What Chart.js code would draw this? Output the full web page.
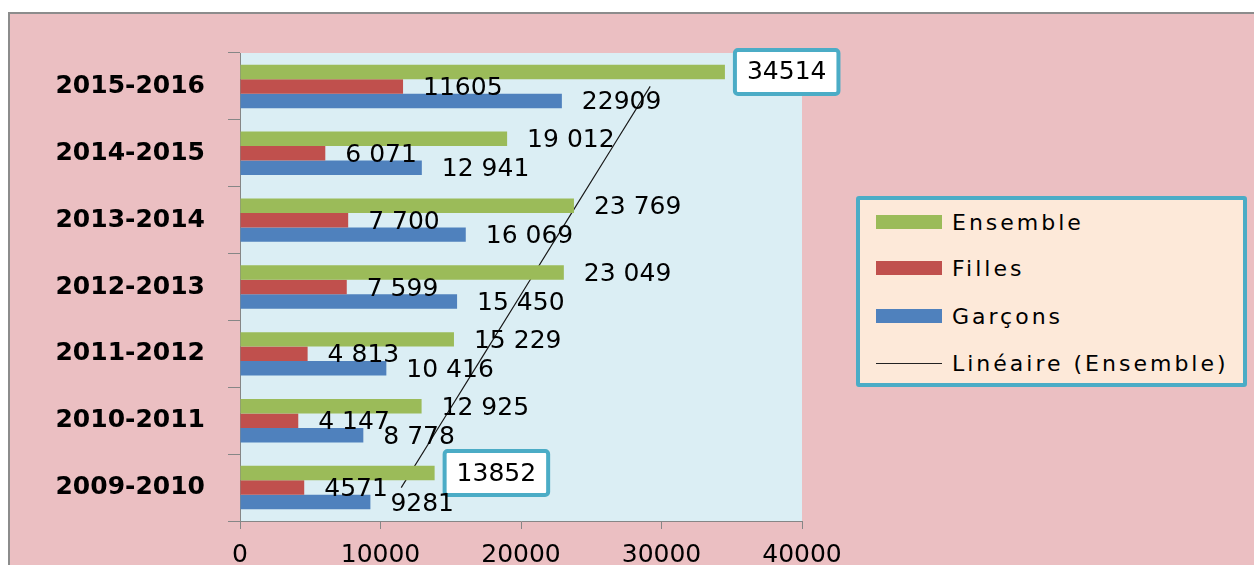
<!DOCTYPE html>
<html>
<head>
<meta charset="utf-8">
<script src="https://cdn.jsdelivr.net/npm/chart.js@4.4.1/dist/chart.umd.min.js"></script>
<style>
  html, body { margin: 0; padding: 0; background: #fff; width: 1254px; height: 565px; overflow: hidden; }
  #frame { position: absolute; left: 8px; top: 12px; width: 1246px; height: 553px; box-sizing: border-box;
           background: #ebbfc2; border-top: 2px solid #8c8c8c; border-left: 2px solid #8c8c8c; }
  #chart { position: absolute; left: 0; top: 0; }
  #legend { position: absolute; left: 856px; top: 196px; width: 391px; height: 191px; box-sizing: border-box;
            border: 4px solid #4bacc6; border-radius: 3px; background: #fde9d9;
            font-family: 'DejaVu Sans', sans-serif; font-size: 22px; color: #000; letter-spacing: 3px; }
  .item { position: absolute; left: 16px; height: 30px; display: flex; align-items: center; white-space: nowrap; }
  .sw { width: 66px; height: 14px; margin-right: 10px; flex: none; }
  .sw.line { height: 1px; background: #222; }
</style>
</head>
<body>
<div id="frame"></div>
<canvas id="chart" width="1254" height="565"></canvas>
<div id="legend">
  <div class="item" style="top:7px"><span class="sw" style="background:#9bbb59"></span>Ensemble</div>
  <div class="item" style="top:53px"><span class="sw" style="background:#c0504d"></span>Filles</div>
  <div class="item" style="top:101px"><span class="sw" style="background:#4f81bd"></span>Garçons</div>
  <div class="item" style="top:148px"><span class="sw line"></span>Linéaire (Ensemble)</div>
</div>
<script>
// rows listed from top to bottom as in the picture
const seasons = ['2015-2016', '2014-2015', '2013-2014', '2012-2013', '2011-2012', '2010-2011', '2009-2010'];
const ensemble = [34514, 19012, 23769, 23049, 15229, 12925, 13852];
const filles = [11605, 6071, 7700, 7599, 4813, 4147, 4571];
const garcons = [22909, 12941, 16069, 15450, 10416, 8778, 9281];

const ensembleText = ['34514', '19 012', '23 769', '23 049', '15 229', '12 925', '13852'];
const fillesText = ['11605', '6 071', '7 700', '7 599', '4 813', '4 147', '4571'];
const garconsText = ['22909', '12 941', '16 069', '15 450', '10 416', '8 778', '9281'];
const boxedEnsemble = [0, 6];

const xTicks = [0, 10000, 20000, 30000, 40000];

const GREEN = '#9bbb59';
const RED = '#c0504d';
const BLUE = '#4f81bd';
const AXIS = '#868686';

// least squares line, as the spreadsheet trendline
function linearFit(vals) {
  const n = vals.length;
  const mx = (n - 1) / 2;
  const my = vals.reduce((a, b) => a + b, 0) / n;
  let num = 0, den = 0;
  vals.forEach((v, i) => { num += (i - mx) * (v - my); den += (i - mx) * (i - mx); });
  const slope = num / den;
  return vals.map((_, i) => my + slope * (i - mx));
}

const plotBg = {
  id: 'plotBg',
  beforeDraw(chart) {
    const { ctx, chartArea: a } = chart;
    ctx.save();
    ctx.fillStyle = '#dbeef4';
    ctx.fillRect(a.left, a.top, a.right - a.left, a.bottom - a.top);
    ctx.restore();
  }
};

const valueLabels = {
  id: 'valueLabels',
  afterDatasetsDraw(chart) {
    const ctx = chart.ctx;
    const texts = [ensembleText, fillesText, garconsText];
    ctx.save();
    ctx.font = '25px "DejaVu Sans"';
    ctx.textBaseline = 'middle';
    ctx.textAlign = 'left';
    texts.forEach((list, di) => {
      const meta = chart.getDatasetMeta(di);
      meta.data.forEach((bar, i) => {
        const txt = list[i];
        if (di === 0 && boxedEnsemble.includes(i)) {
          const w = ctx.measureText(txt).width;
          const bx = bar.x + 10, by = bar.y - 22;
          ctx.beginPath();
          ctx.roundRect(bx, by, w + 24, 44, 3);
          ctx.fillStyle = '#fff';
          ctx.fill();
          ctx.lineWidth = 4;
          ctx.strokeStyle = '#4bacc6';
          ctx.stroke();
          ctx.fillStyle = '#000';
          ctx.fillText(txt, bx + 12, bar.y + 1);
        } else {
          ctx.fillStyle = '#000';
          ctx.fillText(txt, bar.x + 20, bar.y + 2);
        }
      });
    });
    ctx.restore();
  }
};

new Chart(document.getElementById('chart'), {
  type: 'bar',
  data: {
    labels: seasons,
    datasets: [
      { label: 'Ensemble', data: ensemble, backgroundColor: GREEN, categoryPercentage: 0.65, barPercentage: 1 },
      { label: 'Filles', data: filles, backgroundColor: RED, categoryPercentage: 0.65, barPercentage: 1 },
      { label: 'Garçons', data: garcons, backgroundColor: BLUE, categoryPercentage: 0.65, barPercentage: 1 },
      { type: 'line', label: 'Linéaire (Ensemble)', indexAxis: 'y', data: linearFit(ensemble),
        borderColor: '#1a1a1a', borderWidth: 1.2, pointRadius: 0, fill: false, tension: 0 }
    ]
  },
  options: {
    indexAxis: 'y',
    responsive: false,
    devicePixelRatio: 1,
    animation: false,
    layout: { padding: { top: 53, right: 452, left: 0, bottom: 0 } },
    plugins: { legend: { display: false }, tooltip: { enabled: false } },
    scales: {
      y: {
        type: 'category',
        offset: true,
        afterFit: s => { s.width = 240; },
        grid: { display: true, drawOnChartArea: false, drawTicks: true, tickLength: 12, offset: true, color: AXIS },
        border: { color: AXIS, width: 1 },
        ticks: { color: '#000', padding: 23, font: { family: 'DejaVu Sans', size: 25, weight: 'bold' } }
      },
      x: {
        min: xTicks[0],
        max: xTicks[xTicks.length - 1],
        afterFit: s => { s.height = 44; },
        afterBuildTicks: s => { s.ticks = xTicks.map(v => ({ value: v })); },
        grid: { display: true, drawOnChartArea: false, drawTicks: true, tickLength: 8, color: AXIS },
        border: { color: AXIS, width: 1 },
        ticks: { color: '#000', padding: 11, maxRotation: 0, callback: v => String(v),
                 font: { family: 'DejaVu Sans', size: 25 } }
      }
    }
  },
  plugins: [plotBg, valueLabels]
});
</script>
</body>
</html>
